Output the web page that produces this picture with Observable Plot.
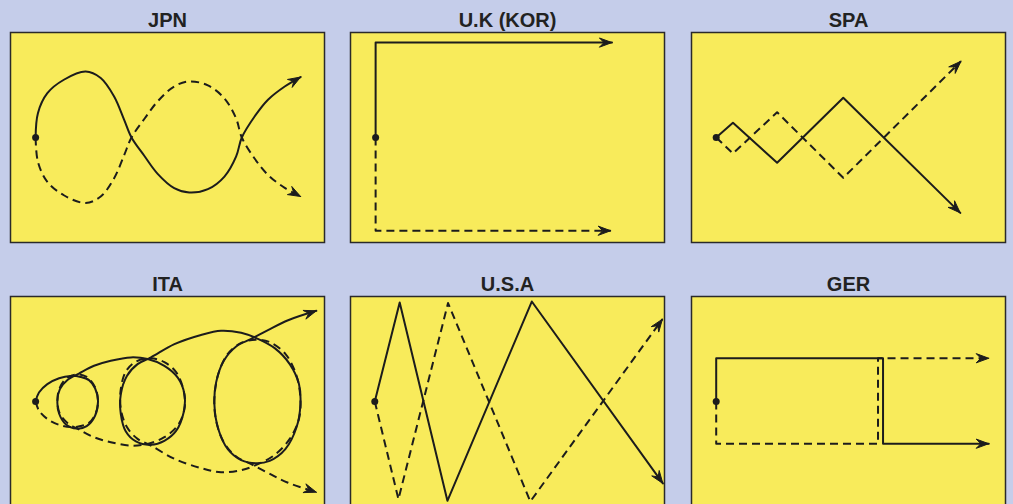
<!DOCTYPE html>
<html>
<head>
<meta charset="utf-8">
<script src="https://cdn.jsdelivr.net/npm/d3@7"></script>
<script src="https://cdn.jsdelivr.net/npm/@observablehq/plot@0.6"></script>
<style>
  html, body { margin: 0; padding: 0; background: #c5cdea; overflow: hidden; width: 1013px; height: 504px; }
  #chart { position: relative; width: 1013px; height: 504px; }
  .panel { position: absolute; }
  .panel svg { overflow: visible; }
</style>
</head>
<body>
<div id="chart"></div>
<script>
// Panel titles
const titles = ["JPN", "U.K (KOR)", "SPA", "ITA", "U.S.A", "GER"];

// Paths in panel units (x: 0..150 across the panel, y: -50..50, 0 = start dot level)
const jpnSolid = [[12,0],[13.1,11.6],[17.6,21.1],[25.5,27.5],[35.9,31.4],[43.1,28.3],[49.5,19.5],[54.3,8.4],[57.8,0],[63.9,-8.7],[70.3,-17.3],[78.2,-24.1],[85.4,-26.2],[94.3,-24.6],[102.2,-18.6],[107.8,-9.0],[110.5,0],[116.6,10.0],[123.0,18.0],[131.0,24.3],[138.6,28.8]];
const jpnDashed = [[12,0],[13.1,-11.6],[17.6,-21.1],[25.5,-27.5],[35.9,-31.2],[43.1,-28.1],[49.5,-19.4],[54.3,-8.4],[57.8,0],[63.9,8.8],[70.3,17.2],[78.2,24.3],[85.4,26.7],[94.3,24.8],[102.2,18.6],[107.8,9.0],[110.5,0],[116.6,-10.0],[123.0,-17.8],[131.0,-24.0],[138.6,-28.1]];

const ukSolid = [[12,0],[12,45.2],[124.9,45.2]];
const ukDashed = [[12,0],[12,-44.4],[124.3,-44.4]];

const spaSolid = [[11.8,0],[19.8,7.0],[40.9,-12.0],[72.5,18.9],[128.4,-35.9]];
const spaDashed = [[11.8,0],[19.8,-7.6],[40.9,12.0],[72.5,-19.2],[128.7,36.3]];

const itaSolid = [[12.0,0],[13.6,4.3],[17.6,8.3],[23.2,11.1],[28.7,12.2],[33.5,11.7],[37.5,10.2],[40.4,6.3],[41.8,0.3],[40.4,-6.8],[36.4,-11.7],[31.6,-12.9],[26.4,-10.8],[23.2,-5.7],[22.4,0.3],[23.6,5.9],[27.2,10.2],[32.7,13.3],[39.9,17.0],[47.9,19.4],[57.5,21.0],[65.5,20.2],[73.5,17.0],[79.9,11.4],[83.1,3.5],[82.7,-5.2],[79.1,-14.0],[73.5,-18.7],[67.1,-20.6],[59.9,-19.0],[55.1,-14.3],[52.7,-6.0],[52.7,3.5],[55.6,12.2],[60.7,17.8],[67.1,21.0],[78.3,27.3],[91.0,31.7],[100.6,33.7],[110.2,32.7],[117.4,30.2],[126.2,25.4],[133.4,17.8],[137.8,8.3],[138.5,-1.3],[136.6,-12.4],[131.3,-22.7],[123.8,-28.3],[117.4,-29.4],[110.2,-27.9],[103.8,-22.7],[99.3,-13.2],[97.4,-1.3],[98.2,9.0],[101.9,19.4],[107.8,26.2],[115.0,29.8],[123.0,34.0],[132.6,38.7],[146.1,43.2]];
const itaDashed = [[12.0,0],[13.6,-4.3],[17.6,-8.3],[23.2,-11.1],[28.7,-12.2],[33.5,-11.7],[37.5,-10.2],[40.4,-6.3],[41.8,-0.3],[40.4,6.8],[36.4,11.7],[31.6,12.9],[26.4,10.8],[23.2,5.7],[22.4,-0.3],[23.6,-5.9],[27.2,-10.2],[32.7,-13.3],[39.9,-17.0],[47.9,-19.4],[57.5,-21.0],[65.5,-20.2],[73.5,-17.0],[79.9,-11.4],[83.1,-3.5],[82.7,5.2],[79.1,14.0],[73.5,18.7],[67.1,20.6],[59.9,19.0],[55.1,14.3],[52.7,6.0],[52.7,-3.5],[55.6,-12.2],[60.7,-17.8],[67.1,-21.0],[78.3,-27.3],[91.0,-31.7],[100.6,-33.7],[110.2,-32.7],[117.4,-30.2],[126.2,-25.4],[133.4,-17.8],[137.8,-8.3],[138.5,1.3],[136.6,12.4],[131.3,22.7],[123.8,28.3],[117.4,29.4],[110.2,27.9],[103.8,22.7],[99.3,13.2],[97.4,1.3],[98.2,-9.0],[101.9,-19.4],[107.8,-26.2],[115.0,-29.8],[123.0,-34.0],[132.6,-38.7],[146.1,-43.2]];

const usaSolid = [[11.6,0],[23.5,47.1],[46.3,-47.3],[86.6,47.6],[149.2,-39.0]];
const usaDashed = [[11.6,0],[22.9,-46.5],[46.6,46.9],[85.9,-47.6],[149.0,39.2]];

const gerSolid = [[11.8,0],[11.8,20.6],[91.5,20.6],[91.5,-20.1],[142.0,-20.1]];
const gerDashed = [[11.8,0],[11.8,-20.1],[89.1,-20.1],[89.1,20.6],[142.0,20.6]];

// Layout (page placement of each panel)
const layout = [
  {left: 9,   top: 0,   curve: "catmull-rom"},
  {left: 349, top: 0,   curve: "linear"},
  {left: 690, top: 0,   curve: "linear"},
  {left: 9,   top: 264, curve: "catmull-rom"},
  {left: 349, top: 264, curve: "linear"},
  {left: 690, top: 264, curve: "linear"}
];
const solids = [jpnSolid, ukSolid, spaSolid, itaSolid, usaSolid, gerSolid];
const dasheds = [jpnDashed, ukDashed, spaDashed, itaDashed, usaDashed, gerDashed];

const ink = "#1c1c1c";
const yellow = "#f8eb5b";

// Arrowhead outline (barbed "stealth" shape) built from the last segment of a path
function headFor(path, id) {
  const [xa, ya] = path[path.length - 2];
  const [xb, yb] = path[path.length - 1];
  const d = Math.hypot(xb - xa, yb - ya);
  const ux = (xb - xa) / d, uy = (yb - ya) / d;
  const nx = -uy, ny = ux;
  const L = 6, W = 2.2, N = 3.8;
  return [
    [xb, yb],
    [xb - L * ux + W * nx, yb - L * uy + W * ny],
    [xb - N * ux, yb - N * uy],
    [xb - L * ux - W * nx, yb - L * uy - W * ny],
    [xb, yb]
  ].map(([x, y]) => ({x, y, id}));
}

const chart = document.getElementById("chart");
titles.forEach((title, i) => {
  const L = layout[i];
  const solid = solids[i], dashed = dasheds[i];
  const heads = [...headFor(solid, "s"), ...headFor(dashed, "d")];
  const plot = Plot.plot({
    width: 316, height: 243,
    marginTop: 32, marginBottom: 1, marginLeft: 1, marginRight: 1,
    x: {domain: [0, 150], axis: null},
    y: {domain: [-50, 50], axis: null},
    style: {background: "transparent", overflow: "visible"},
    marks: [
      Plot.frame({fill: yellow, stroke: "#2a2a2a", strokeWidth: 1.5}),
      Plot.line(dashed, {x: d => d[0], y: d => d[1], curve: L.curve, stroke: ink, strokeWidth: 2, strokeDasharray: "8,5", strokeLinecap: "butt"}),
      Plot.line(solid, {x: d => d[0], y: d => d[1], curve: L.curve, stroke: ink, strokeWidth: 2}),
      Plot.line(heads, {x: "x", y: "y", z: "id", fill: ink, stroke: ink, strokeWidth: 1, strokeLinejoin: "miter", strokeMiterlimit: 4}),
      Plot.dot([solid[0]], {x: d => d[0], y: d => d[1], r: 3.5, fill: ink, stroke: "none"}),
      Plot.text([title], {text: d => d, frameAnchor: "top", lineAnchor: "bottom", dy: -6, fontSize: 20, fontWeight: "bold", fill: "#222", fontFamily: "Liberation Sans, Arial, sans-serif"})
    ]
  });
  const div = document.createElement("div");
  div.className = "panel";
  div.style.left = L.left + "px";
  div.style.top = L.top + "px";
  div.appendChild(plot);
  chart.appendChild(div);
});
</script>
</body>
</html>
